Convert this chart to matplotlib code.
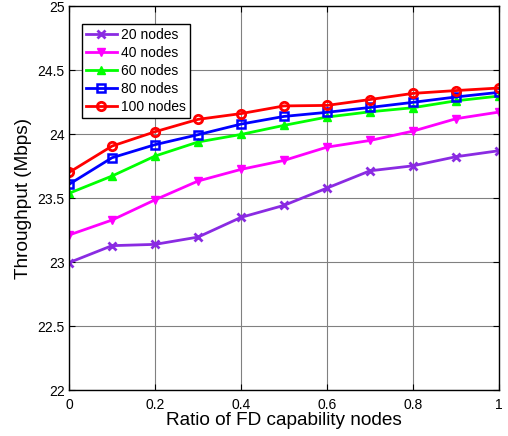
import matplotlib
matplotlib.use("Agg")
import matplotlib.pyplot as plt

x = [0, 0.1, 0.2, 0.3, 0.4, 0.5, 0.6, 0.7, 0.8, 0.9, 1.0]
n20 = [22.995, 23.128, 23.138, 23.195, 23.349, 23.443, 23.578, 23.713, 23.752, 23.823, 23.87]
n40 = [23.211, 23.328, 23.486, 23.633, 23.724, 23.794, 23.898, 23.95, 24.023, 24.12, 24.172]
n60 = [23.537, 23.672, 23.828, 23.938, 23.997, 24.068, 24.133, 24.174, 24.206, 24.26, 24.297]
n80 = [23.607, 23.815, 23.917, 23.995, 24.078, 24.138, 24.17, 24.208, 24.248, 24.29, 24.326]
n100 = [23.70, 23.906, 24.018, 24.115, 24.16, 24.22, 24.224, 24.27, 24.318, 24.34, 24.36]
labels = ["20 nodes", "40 nodes", "60 nodes", "80 nodes", "100 nodes"]
xticks = [0, 0.2, 0.4, 0.6, 0.8, 1]
xtick_labels = ["0", "0.2", "0.4", "0.6", "0.8", "1"]
yticks = [22, 22.5, 23, 23.5, 24, 24.5, 25]
ytick_labels = ["22", "22.5", "23", "23.5", "24", "24.5", "25"]

plt.rcParams['font.family'] = ['Liberation Sans', 'DejaVu Sans']
fig = plt.figure(figsize=(5.08, 4.36), dpi=100)
ax = fig.add_axes([0.1358, 0.1055, 0.8465, 0.8805])

series = [n20, n40, n60, n80, n100]
colors = ['#8A2BE2', '#FF00FF', '#00FF00', '#0000FF', '#FF0000']
markers = ['x', 'v', '^', 's', 'o']
for s, c, m, l in zip(series, colors, markers, labels):
    kw = dict(markerfacecolor=c, markeredgecolor=c)
    if m == 'o':
        kw = dict(markerfacecolor='none', markeredgecolor=c, markeredgewidth=2)
    if m == 's':
        kw = dict(markerfacecolor='none', markeredgecolor=c, markeredgewidth=1.8)
    if m == 'x':
        kw = dict(markeredgewidth=2, markeredgecolor=c)
    ax.plot(x, s, color=c, marker=m, linewidth=2, markersize=6, label=l, **kw)

ax.set_xlim(0, 1)
ax.set_ylim(22, 25)
ax.set_xticks(xticks)
ax.set_xticklabels(xtick_labels)
ax.set_yticks(yticks)
ax.set_yticklabels(ytick_labels)
ax.tick_params(direction='in', top=True, right=True, labelsize=10, length=4, pad=3)
ax.tick_params(axis='x', pad=6)
ax.grid(True, color='#808080', linewidth=0.8)
for sp in ax.spines.values():
    sp.set_linewidth(1)
ax.set_xlabel("Ratio of FD capability nodes", fontsize=13.7, labelpad=0)
ax.set_ylabel("Throughput (Mbps)", fontsize=13.7, labelpad=4)
leg = ax.legend(loc='upper left', bbox_to_anchor=(0.03, 0.953), fontsize=10,
                frameon=True, fancybox=False, edgecolor='black', framealpha=1,
                borderpad=0.3, labelspacing=0.28, handlelength=2.2, handletextpad=0.3,
                borderaxespad=0)
leg.get_frame().set_linewidth(1)
fig.savefig("out.png", dpi=100)
